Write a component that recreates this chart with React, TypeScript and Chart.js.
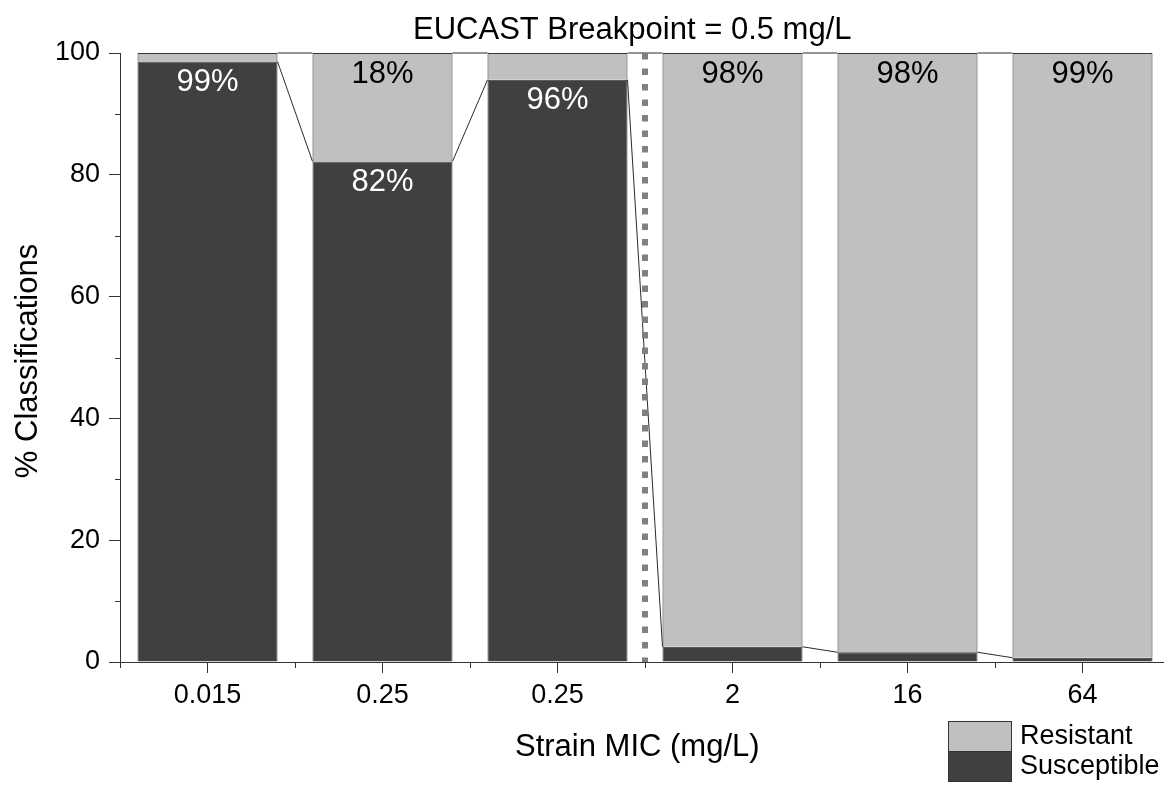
import React, { useEffect, useRef } from "react";
import { Chart, registerables } from "chart.js";

Chart.register(...registerables);

const categories = ["0.015", "0.25", "0.25", "2", "16", "64"];
const susceptible = [98.6, 82.2, 95.6, 2.5, 1.6, 0.7];
const resistant = [1.4, 17.8, 4.4, 97.5, 98.4, 99.3];
const yTicks = [0, 20, 40, 60, 80, 100];
const yMinorTicks = [10, 30, 50, 70, 90];
const breakpointAfterIndex = 2; // dotted line between 3rd and 4th categories
const titleText = "EUCAST Breakpoint = 0.5 mg/L";
const xTitle = "Strain MIC (mg/L)";
const yTitle = "% Classifications";

const DARK = "#404040";
const LIGHT = "#c0c0c0";
const EDGE = "#333333";
const FONT = "'Liberation Sans', Arial, sans-serif";

const overlayPlugin = {
  id: "overlay",
  afterDatasetsDraw(chart: any) {
    const { ctx, chartArea, scales } = chart;
    const x = scales.x;
    const y = scales.y;
    ctx.save();

    // connecting lines between stacked segment tops
    ctx.strokeStyle = "#2a2a2a";
    ctx.lineWidth = 1;
    chart.data.datasets.forEach((ds: any, di: number) => {
      const meta = chart.getDatasetMeta(di);
      for (let i = 0; i < meta.data.length - 1; i++) {
        const a = meta.data[i];
        const b = meta.data[i + 1];
        ctx.beginPath();
        ctx.moveTo(a.x + a.width / 2, a.y);
        ctx.lineTo(b.x - b.width / 2, b.y);
        ctx.stroke();
      }
    });

    // value labels
    ctx.font = `31px ${FONT}`;
    ctx.textAlign = "center";
    ctx.textBaseline = "middle";
    chart.data.datasets.forEach((ds: any, di: number) => {
      const meta = chart.getDatasetMeta(di);
      ds.data.forEach((v: number, i: number) => {
        if (v < 10) return;
        const el = meta.data[i];
        ctx.fillStyle = di === 0 ? "#ffffff" : "#000000";
        ctx.fillText(Math.round(v) + "%", el.x, el.y + 21);
      });
    });

    // breakpoint dotted line
    const xb = (x.getPixelForValue(breakpointAfterIndex) + x.getPixelForValue(breakpointAfterIndex + 1)) / 2;
    ctx.strokeStyle = "#808080";
    ctx.lineWidth = 6;
    ctx.setLineDash([6.5, 9]);
    ctx.beginPath();
    ctx.moveTo(xb, chartArea.top);
    ctx.lineTo(xb, chartArea.bottom);
    ctx.stroke();
    ctx.setLineDash([]);

    // minor ticks
    ctx.strokeStyle = EDGE;
    ctx.lineWidth = 1;
    yMinorTicks.forEach((v) => {
      const py = Math.round(y.getPixelForValue(v)) + 0.5;
      ctx.beginPath();
      ctx.moveTo(chartArea.left - 5, py);
      ctx.lineTo(chartArea.left, py);
      ctx.stroke();
    });
    for (let i = 0; i <= categories.length; i++) {
      const px = Math.round(x.getPixelForValue(i - 0.5)) + 0.5;
      ctx.beginPath();
      ctx.moveTo(px, chartArea.bottom);
      ctx.lineTo(px, chartArea.bottom + 6);
      ctx.stroke();
    }

    // titles
    ctx.fillStyle = "#000";
    ctx.font = `31px ${FONT}`;
    ctx.textAlign = "left";
    ctx.textBaseline = "alphabetic";
    ctx.fillText(titleText, 413, 39);
    ctx.fillText(xTitle, 515, 756);
    ctx.save();
    ctx.translate(37, 361);
    ctx.rotate(-Math.PI / 2);
    ctx.textAlign = "center";
    ctx.fillText(yTitle, 0, 0);
    ctx.restore();

    // legend (Resistant on top, Susceptible below)
    const legendItems = [chart.data.datasets[1], chart.data.datasets[0]];
    ctx.font = `27px ${FONT}`;
    ctx.textBaseline = "middle";
    legendItems.forEach((ds: any, k: number) => {
      const top = 721 + k * 30;
      ctx.fillStyle = ds.backgroundColor;
      ctx.fillRect(948, top, 63, 30);
      ctx.strokeStyle = EDGE;
      ctx.lineWidth = 1;
      ctx.strokeRect(948.5, top + 0.5, 63, 30);
      ctx.fillStyle = "#000";
      ctx.fillText(ds.label, 1020, top + 16);
    });

    ctx.restore();
  },
};

export default function App() {
  const ref = useRef<HTMLCanvasElement>(null);
  useEffect(() => {
    document.body.style.margin = "0";
    const chart = new Chart(ref.current as HTMLCanvasElement, {
      type: "bar",
      data: {
        labels: categories,
        datasets: [
          {
            label: "Susceptible",
            data: susceptible,
            backgroundColor: DARK,
            borderColor: EDGE,
            borderWidth: 1,
            barPercentage: 0.8,
            categoryPercentage: 1,
          },
          {
            label: "Resistant",
            data: resistant,
            backgroundColor: LIGHT,
            borderColor: EDGE,
            borderWidth: 1,
            barPercentage: 0.8,
            categoryPercentage: 1,
          },
        ],
      },
      options: {
        animation: false,
        responsive: false,
        devicePixelRatio: 1,
        layout: { padding: { top: 53, right: 2, left: 0, bottom: 0 } },
        plugins: { legend: { display: false }, title: { display: false }, tooltip: { enabled: false } },
        scales: {
          x: {
            stacked: true,
            afterFit: (s: any) => {
              s.height = 123;
            },
            grid: { display: true, drawOnChartArea: false, drawTicks: true, tickLength: 11, color: EDGE, offset: false },
            border: { display: true, color: EDGE, width: 1 },
            ticks: { color: "#000", font: { size: 27, family: FONT }, padding: 6, maxRotation: 0, autoSkip: false },
          },
          y: {
            stacked: true,
            min: 0,
            max: 100,
            afterFit: (s: any) => {
              s.width = 120;
            },
            afterBuildTicks: (s: any) => {
              s.ticks = yTicks.map((v) => ({ value: v }));
            },
            grid: { display: true, drawOnChartArea: false, drawTicks: true, tickLength: 11, color: EDGE },
            border: { display: true, color: EDGE, width: 1 },
            ticks: { color: "#000", font: { size: 27, family: FONT }, padding: 9 },
          },
        },
      },
      plugins: [overlayPlugin],
    });
    return () => chart.destroy();
  }, []);
  return (
    <div style={{ position: "absolute", left: 0, top: 0, width: 1164, height: 785, overflow: "hidden", background: "#fff" }}>
      <canvas ref={ref} width={1172} height={785} style={{ display: "block" }} />
    </div>
  );
}
